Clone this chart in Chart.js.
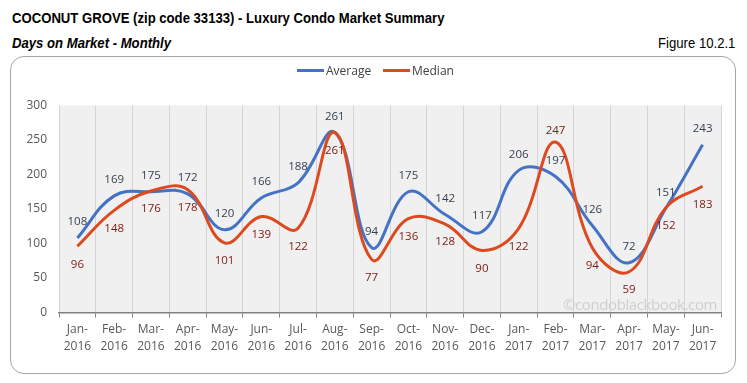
<!DOCTYPE html>
<html>
<head>
<meta charset="utf-8">
<script src="https://cdn.jsdelivr.net/npm/chart.js@4/dist/chart.umd.min.js"></script>
<style>
  html, body { margin:0; padding:0; background:#fff; width:747px; height:383px; overflow:hidden; }
  #wrap { position:relative; width:747px; height:383px; }
  .t { position:absolute; white-space:nowrap; color:#000; transform:scaleX(0.875); }
  #title { left:12px; top:9px; font:bold 15px "Liberation Sans Narrow","Arial Narrow","Liberation Sans",sans-serif; transform-origin:left top; }
  #sub { left:12px; top:34px; font:italic bold 15px "Liberation Sans Narrow","Arial Narrow","Liberation Sans",sans-serif; transform-origin:left top; }
  #fig { right:12px; top:34px; font:15px "Liberation Sans Narrow","Arial Narrow","Liberation Sans",sans-serif; transform-origin:right top; }
  #box { position:absolute; left:10px; top:56px; width:726px; height:318px; border:1.5px solid #a6a6a6; border-radius:14px; box-sizing:border-box; }
  #legend { position:absolute; top:63px; left:297px; font:12px "Open Sans",sans-serif; color:#404040; z-index:3; }
  .li { position:absolute; top:0; white-space:nowrap; line-height:16px; }
  .sw { display:inline-block; width:27px; height:3px; vertical-align:middle; margin-right:2px; position:relative; top:-1px; }
  #wm { position:absolute; left:563px; top:294px; font:15px "Open Sans",sans-serif; letter-spacing:-0.4px; color:#cfcfcf; z-index:2; }
  canvas { position:absolute; left:0; top:0; z-index:1; }
</style>
</head>
<body>
<div id="wrap">
  <div id="box"></div>
  <div class="t" id="title">COCONUT GROVE (zip code 33133) - Luxury Condo Market Summary</div>
  <div class="t" id="sub">Days on Market - Monthly</div>
  <div class="t" id="fig">Figure 10.2.1</div>
  <canvas id="c" width="747" height="383"></canvas>
  <div id="wm">©condoblackbook.com</div>
  <div id="legend">
    <span class="li" style="left:0px"><span class="sw" style="background:#4472c4"></span>Average</span>
    <span class="li" style="left:86px"><span class="sw" style="background:#dd4a1f"></span>Median</span>
  </div>
</div>
<script>
const months = ["Jan","Feb","Mar","Apr","May","Jun","Jul","Aug","Sep","Oct","Nov","Dec","Jan","Feb","Mar","Apr","May","Jun"];
const years = ["2016","2016","2016","2016","2016","2016","2016","2016","2016","2016","2016","2016","2017","2017","2017","2017","2017","2017"];
const average = [108,169,175,172,120,166,188,261,94,175,142,117,206,197,126,72,151,243];
const median = [96,148,176,178,101,139,122,261,77,136,128,90,122,247,94,59,152,183];
const medianLabelAbove = [false,false,false,false,false,false,false,false,false,false,false,false,false,true,false,false,false,false];
const yTicks = [0,50,100,150,200,250,300];

const labels = months.map((m,i) => [m + "-", years[i]]);

const bgPlugin = {
  id: 'bg',
  beforeDraw(chart) {
    const {ctx, chartArea:a} = chart;
    ctx.save();
    ctx.fillStyle = '#f0f0f0';
    ctx.fillRect(a.left, a.top, a.right - a.left, a.bottom - a.top);
    ctx.restore();
  }
};

const labelPlugin = {
  id: 'vals',
  afterDatasetsDraw(chart) {
    const ctx = chart.ctx;
    ctx.save();
    ctx.font = '11.5px "Open Sans", sans-serif';
    ctx.textAlign = 'center';
    ctx.textBaseline = 'middle';
    chart.data.datasets.forEach((ds, di) => {
      const meta = chart.getDatasetMeta(di);
      meta.data.forEach((pt, i) => {
        const v = ds.data[i];
        let dy;
        if (ds.key === 'avg') { dy = -16; ctx.fillStyle = '#333f50'; }
        else { dy = medianLabelAbove[i] ? -11 : 18; ctx.fillStyle = '#7b1a12'; }
        ctx.fillText(String(v), pt.x, pt.y + dy);
      });
    });
    ctx.restore();
  }
};

new Chart(document.getElementById('c'), {
  type: 'line',
  data: {
    labels: labels,
    datasets: [
      { key:'avg', label:'Average', data: average, borderColor:'#4472c4', borderWidth:3, tension:0.4, pointRadius:0, fill:false, order:1 },
      { key:'med', label:'Median', data: median, borderColor:'#dd4a1f', borderWidth:3, tension:0.4, pointRadius:0, fill:false, order:0 }
    ]
  },
  options: {
    responsive:false,
    animation:false,
    devicePixelRatio:1,
    layout: { padding: { left:10, right:26, top:105.5, bottom:20.5 } },
    plugins: { legend:{display:false}, tooltip:{enabled:false} },
    scales: {
      x: {
        offset:true,
        grid: { offset:true, color:'#d4d4d4', tickColor:'#808080', tickLength:5, drawTicks:true, lineWidth:1 },
        border: { display:true, color:'#808080', width:1.5 },
        ticks: { color:'#595959', font:{ family:'"Open Sans", sans-serif', size:12, lineHeight:1.4 }, padding:4, maxRotation:0, autoSkip:false },
        afterFit(s) { s.height = 50; }
      },
      y: {
        min:0, max:300,
        afterBuildTicks(s) { s.ticks = yTicks.map(v => ({value:v})); },
        grid: { display:false, drawTicks:false },
        border: { display:false },
        ticks: { color:'#595959', font:{ family:'"Open Sans", sans-serif', size:12 }, padding:12 },
        afterFit(s) { s.width = 49; }
      }
    }
  },
  plugins: [bgPlugin, labelPlugin]
});
</script>
</body>
</html>
